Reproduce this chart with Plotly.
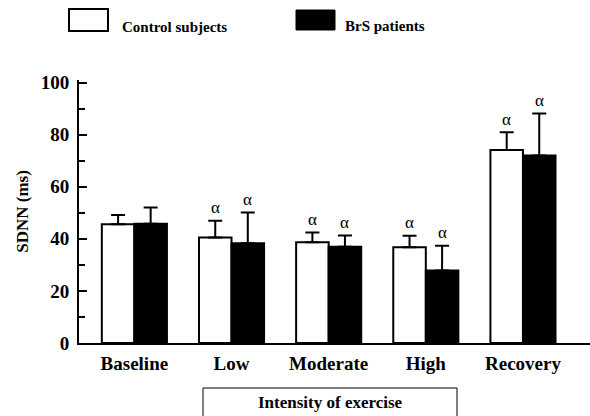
import plotly.graph_objects as go

categories = ["Baseline", "Low", "Moderate", "High", "Recovery"]
control_mean = [45.6, 40.5, 38.7, 36.8, 74.1]
control_err = [3.6, 6.4, 3.7, 4.4, 6.8]
brs_mean = [45.8, 38.3, 37.0, 27.8, 72.0]
brs_err = [6.2, 11.8, 4.3, 9.5, 16.1]
control_sig = ["", "α", "α", "α", "α"]
brs_sig = ["", "α", "α", "α", "α"]
series_names = ["Control subjects", "BrS patients"]
y_title = "SDNN (ms)"
x_box_title = "Intensity of exercise"
y_ticks = [0, 20, 40, 60, 80, 100]

FONT = "Liberation Serif, Times New Roman, serif"
W, H = 590, 416
ML, MR, MT, MB = 79, 0, 80, 73
BARGAP = 0.33

xs = list(range(len(categories)))

fig = go.Figure()
fig.add_trace(go.Bar(
    x=xs, y=control_mean, name=series_names[0],
    marker=dict(color="white", line=dict(color="black", width=2)),
    error_y=dict(type="data", array=control_err, arrayminus=[0] * len(xs),
                 symmetric=False, color="black", thickness=2, width=7),
))
fig.add_trace(go.Bar(
    x=xs, y=brs_mean, name=series_names[1],
    marker=dict(color="black", line=dict(color="black", width=2)),
    error_y=dict(type="data", array=brs_err, arrayminus=[0] * len(xs),
                 symmetric=False, color="black", thickness=2, width=7),
))

off = (1 - BARGAP) / 4
annotations = []
for i in xs:
    for sig, m, e, d in ((control_sig[i], control_mean[i], control_err[i], -off),
                         (brs_sig[i], brs_mean[i], brs_err[i], off)):
        if sig:
            annotations.append(dict(x=i + d, y=m + e, xref="x", yref="y", text=sig,
                                    showarrow=False, yshift=13,
                                    font=dict(family=FONT, size=17, color="black")))

pw = W - ML - MR
ph = H - MT - MB


def px(x):
    return (x - ML) / pw


def py(y):
    return (H - MB - y) / ph


shapes = [
    dict(type="rect", xref="paper", yref="paper", x0=px(69), x1=px(108), y0=py(31), y1=py(9),
         fillcolor="white", line=dict(color="black", width=2)),
    dict(type="rect", xref="paper", yref="paper", x0=px(296), x1=px(335), y0=py(30), y1=py(10),
         fillcolor="black", line=dict(color="black", width=1)),
    dict(type="rect", xref="paper", yref="paper", x0=px(203), x1=px(457), y0=py(420), y1=py(388),
         fillcolor="white", line=dict(color="black", width=1)),
]
annotations += [
    dict(x=px(120), y=py(27), xref="paper", yref="paper", text="<b>%s</b>" % series_names[0],
         showarrow=False, xanchor="left", yanchor="middle",
         font=dict(family=FONT, size=15, color="black")),
    dict(x=px(343), y=py(26), xref="paper", yref="paper", text="<b>%s</b>" % series_names[1],
         showarrow=False, xanchor="left", yanchor="middle",
         font=dict(family=FONT, size=15, color="black")),
    dict(x=px(330), y=py(402), xref="paper", yref="paper", text="<b>%s</b>" % x_box_title,
         showarrow=False, xanchor="center", yanchor="middle",
         font=dict(family=FONT, size=17, color="black")),
]

fig.update_layout(
    width=W, height=H,
    margin=dict(l=ML, r=MR, t=MT, b=MB, autoexpand=False),
    paper_bgcolor="white", plot_bgcolor="white",
    barmode="group", bargap=BARGAP, bargroupgap=0,
    showlegend=False,
    font=dict(family=FONT, color="black"),
    annotations=annotations, shapes=shapes,
)
fig.update_xaxes(
    range=[-0.57, 4.69], tickvals=xs, ticktext=["<b>%s</b>" % c for c in categories],
    showline=True, linecolor="black", linewidth=2, ticks="", showgrid=False, zeroline=False,
    tickfont=dict(family=FONT, size=19, color="black"), ticklabelstandoff=2, automargin=False,
)
fig.update_yaxes(
    range=[0, 101], tickvals=y_ticks, ticktext=["<b>%d</b>" % v for v in y_ticks],
    showline=True, linecolor="black", linewidth=2, ticks="inside", ticklen=8, tickwidth=2,
    tickcolor="black", showgrid=False, zeroline=False, automargin=False,
    minor=dict(ticks="inside", ticklen=6, tickwidth=2, tickcolor="black", tick0=10, dtick=20),
    tickfont=dict(family=FONT, size=19, color="black"), ticklabelstandoff=4,
    title=dict(text="<b>%s</b>" % y_title, font=dict(family=FONT, size=17, color="black"), standoff=8),
)

fig.write_html("out.html", config={"displayModeBar": False},
               post_script="document.body.style.margin='0';")
